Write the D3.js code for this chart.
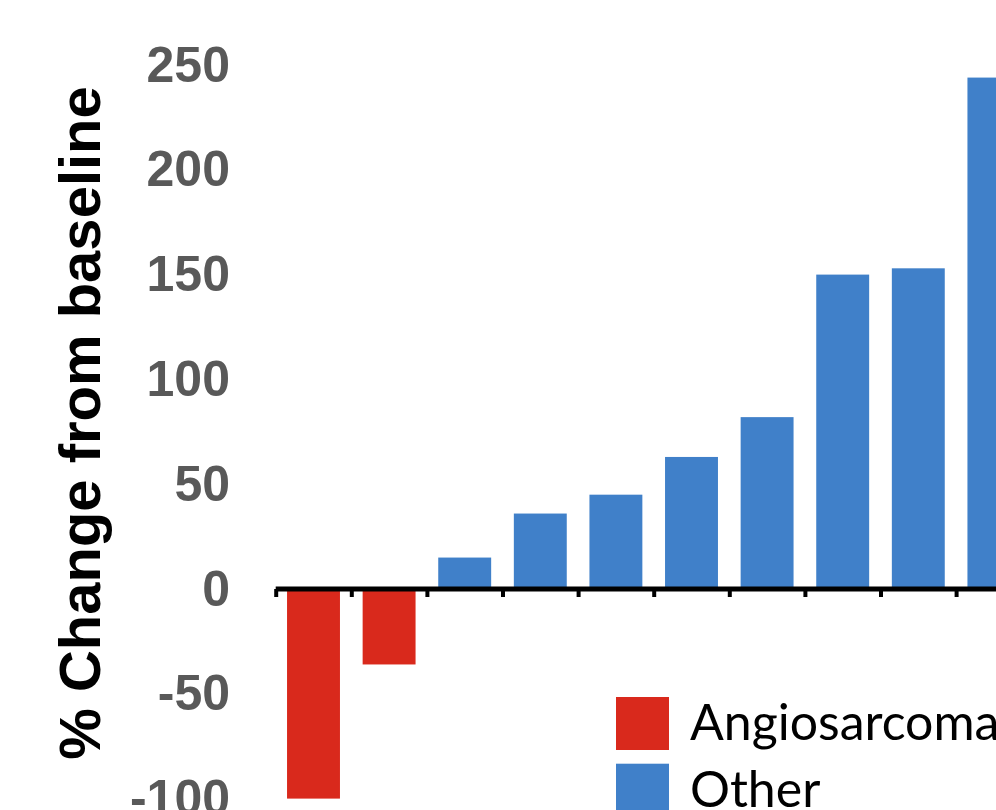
<html>
<head>
  <meta charset="utf-8">
  <script src="https://d3js.org/d3.v7.min.js"></script>
  <style>
    body { margin: 0; overflow: hidden; background: #fff; }
  </style>
  <script>
    // values (bars are cut at the right edge in the original)
    var patients = ["P1","P2","P3","P4","P5","P6","P7","P8","P9","P10"];
    var changes  = [-100, -36, 15, 36, 45, 63, 82, 150, 153, 244];
    var groups   = ["Angiosarcoma","Angiosarcoma","Other","Other","Other","Other","Other","Other","Other","Other"];
    var yTicks   = [-100, -50, 0, 50, 100, 150, 200, 250];
    var legendNames  = ["Angiosarcoma", "Other"];
    var legendColors = ["#d9291c", "#4080c9"];

    function makeChart() {
        var svg = d3.select( "#chart" );
        var col = d3.scaleOrdinal( legendNames, legendColors );

        var x0 = 275.7, step = 75.6;
        var x = d3.scaleBand( patients, [x0, x0 + step*patients.length] )
            .paddingInner( 0.3 ).paddingOuter( 0.15 );
        var y = d3.scaleLinear( [-100, 250], [798.6, 65] );

        // bars
        svg.append( "g" ).selectAll( "rect" ).data( patients ).enter()
            .append( "rect" )
            .attr( "x", d=>x(d) ).attr( "width", x.bandwidth() )
            .attr( "y", (d,i)=>y(Math.max(0, changes[i])) )
            .attr( "height", (d,i)=>Math.abs(y(changes[i]) - y(0)) )
            .attr( "fill", (d,i)=>col(groups[i]) );

        // category axis: thick line with ticks between bars
        var xb = d3.scaleLinear( [0, patients.length], [x0, x0 + step*patients.length] );
        var xa = svg.append( "g" ).attr( "transform", "translate(0," + y(0) + ")" )
            .call( d3.axisBottom(xb).tickValues( d3.range(patients.length+1) )
                   .tickSize( 8 ).tickFormat( "" ) );
        xa.select( ".domain" ).attr( "stroke", "#000" ).attr( "stroke-width", 5 )
            .attr( "d", "M" + x0 + ",0H1100" );
        xa.selectAll( ".tick line" ).attr( "stroke", "#000" ).attr( "stroke-width", 4 );

        // value axis: labels only, plain hyphen for negatives
        var ya = svg.append( "g" ).attr( "transform", "translate(240,0)" )
            .call( d3.axisLeft(y).tickValues( yTicks ).tickSize( 0 ).tickPadding( 10 )
                   .tickFormat( d=>String(d) ) );
        ya.select( ".domain" ).remove();
        ya.selectAll( "text" )
            .attr( "font-family", "'Liberation Sans', Arial, sans-serif" )
            .attr( "font-weight", "bold" ).attr( "font-size", 50 )
            .attr( "fill", "#595959" );

        svg.append( "text" )
            .attr( "transform", "translate(100,423) rotate(-90)" )
            .attr( "text-anchor", "middle" )
            .attr( "font-family", "'Liberation Sans', Arial, sans-serif" )
            .attr( "font-weight", "bold" ).attr( "font-size", 58 )
            .attr( "fill", "#000" )
            .text( "% Change from baseline" );

        // legend
        var lg = svg.append( "g" ).selectAll( "g" ).data( legendNames ).enter()
            .append( "g" ).attr( "transform", (d,i)=>"translate(616," + (697 + i*66.7) + ")" );
        lg.append( "rect" ).attr( "width", 53 ).attr( "height", 53 )
            .attr( "fill", d=>col(d) );
        lg.append( "text" ).attr( "x", 74 ).attr( "y", 43 )
            .attr( "font-family", "Lato, 'Open Sans', sans-serif" )
            .attr( "font-size", 50 ).attr( "fill", "#000" )
            .text( d=>d );
    }
  </script>
</head>

<body onload="makeChart()">
    <svg id="chart" width="996" height="810"></svg>
</body>
</html>
